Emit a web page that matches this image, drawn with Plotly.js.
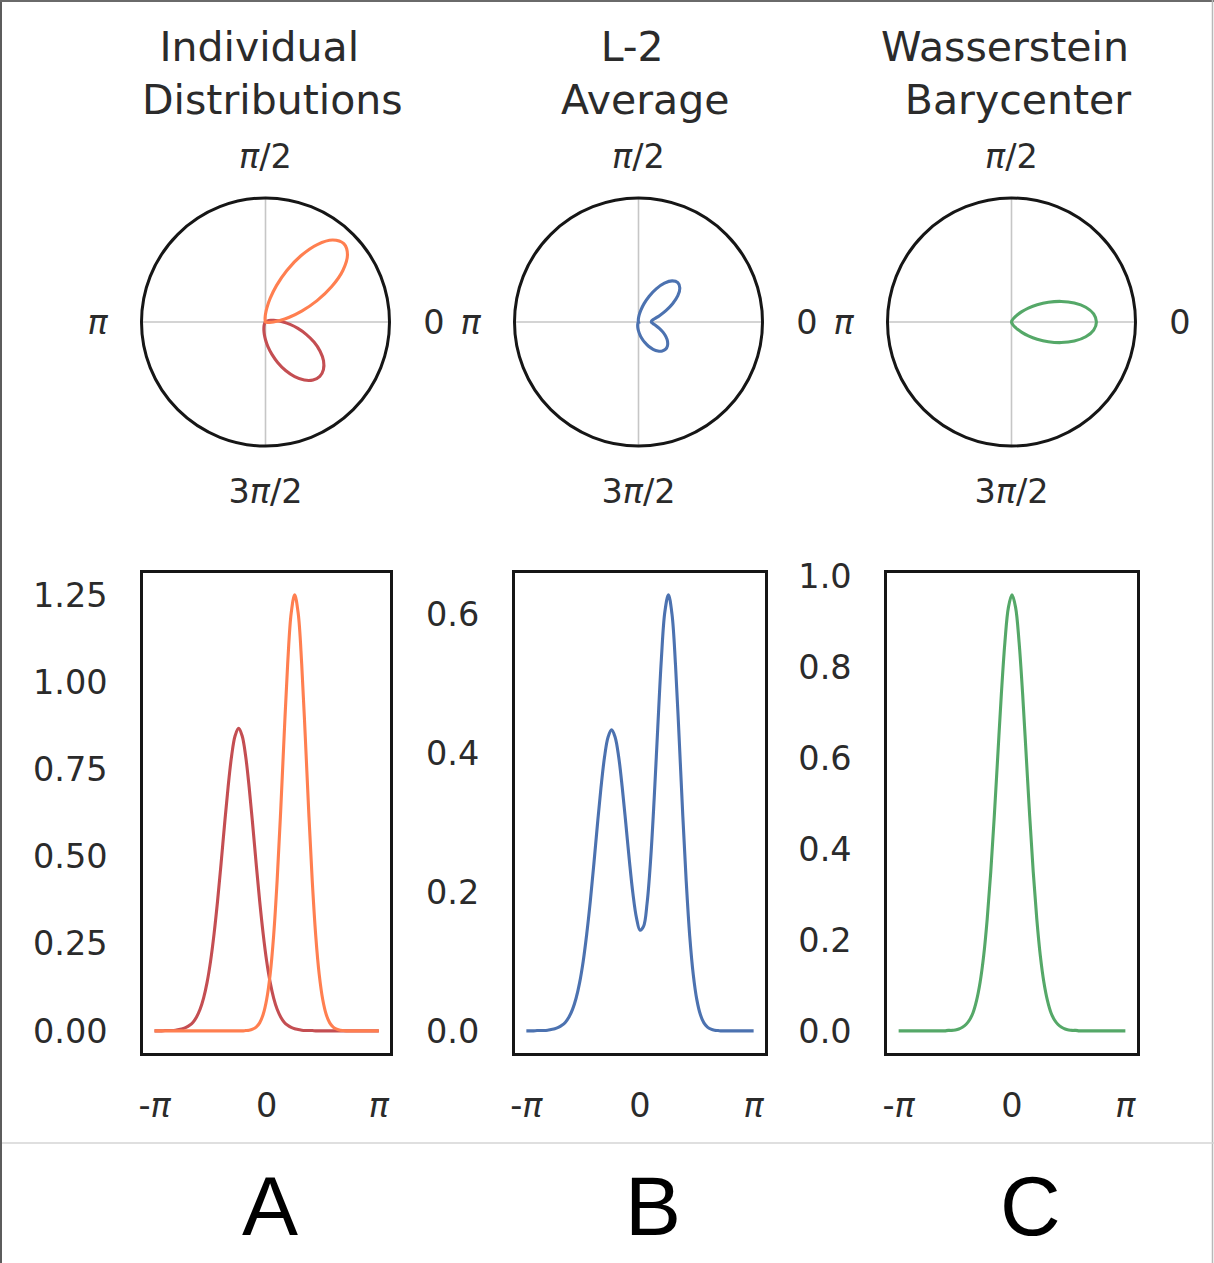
<!DOCTYPE html>
<html><head><meta charset="utf-8">
<script src="https://cdn.plot.ly/plotly-3.0.1.min.js"></script>
<style>html,body{margin:0;padding:0;background:#fff;} #chart{width:1214px;height:1263px;}</style>
</head><body><div id="chart"></div>
<script>
// angle grid (radians), -pi .. pi
const theta = [-3.1416,-3.0434,-2.9452,-2.8471,-2.7489,-2.6507,-2.5525,-2.4544,-2.3562,-2.2580,-2.1598,-2.0617,-1.9635,-1.8653,-1.7671,-1.6690,-1.5708,-1.4726,-1.3744,-1.2763,-1.1781,-1.0799,-0.9817,-0.8836,-0.7854,-0.6872,-0.5890,-0.4909,-0.3927,-0.2945,-0.1963,-0.0982,0,0.0982,0.1963,0.2945,0.3927,0.4909,0.5890,0.6872,0.7854,0.8836,0.9817,1.0799,1.1781,1.2763,1.3744,1.4726,1.5708,1.6690,1.7671,1.8653,1.9635,2.0617,2.1598,2.2580,2.3562,2.4544,2.5525,2.6507,2.7489,2.8471,2.9452,3.0434,3.1416];

const redDistribution = [0,0,0,0.001,0.001,0.001,0.002,0.004,0.006,0.010,0.016,0.025,0.040,0.062,0.094,0.139,0.200,0.279,0.373,0.480,0.593,0.699,0.788,0.846,0.867,0.846,0.788,0.699,0.593,0.480,0.373,0.279,0.200,0.139,0.094,0.062,0.040,0.025,0.016,0.010,0.006,0.004,0.002,0.001,0.001,0.001,0,0,0,0,0,0,0,0,0,0,0,0,0,0,0,0,0,0,0];

const orangeDistribution = [0,0,0,0,0,0,0,0,0,0,0,0,0,0,0,0,0,0,0,0,0,0,0,0,0,0,0.001,0.002,0.005,0.011,0.023,0.047,0.090,0.162,0.274,0.432,0.630,0.848,1.052,1.197,1.250,1.197,1.052,0.848,0.630,0.432,0.274,0.162,0.090,0.047,0.023,0.011,0.005,0.002,0.001,0,0,0,0,0,0,0,0,0,0];

const l2Average = [0,0,0,0.0005,0.0005,0.0005,0.001,0.002,0.003,0.005,0.008,0.0125,0.020,0.031,0.047,0.0695,0.100,0.1395,0.1865,0.240,0.2965,0.3495,0.394,0.423,0.4335,0.423,0.3945,0.3505,0.299,0.2455,0.198,0.163,0.145,0.1505,0.184,0.247,0.335,0.4365,0.534,0.6035,0.628,0.6005,0.527,0.4245,0.3155,0.2165,0.137,0.081,0.045,0.0235,0.0115,0.0055,0.0025,0.001,0.0005,0,0,0,0,0,0,0,0,0,0];

const wassersteinBarycenter = [0,0,0,0,0,0,0,0,0,0,0,0,0,0,0.001,0.001,0.002,0.004,0.008,0.014,0.024,0.040,0.067,0.107,0.165,0.246,0.349,0.472,0.607,0.741,0.855,0.932,0.959,0.932,0.855,0.741,0.607,0.472,0.349,0.246,0.165,0.107,0.067,0.040,0.024,0.014,0.008,0.004,0.002,0.001,0.001,0,0,0,0,0,0,0,0,0,0,0,0,0,0];

const columnTitles = ['Individual\u00a0<br>\u00a0Distributions', 'L-2\u00a0<br>\u00a0Average', 'Wasserstein\u00a0<br>\u00a0Barycenter'];
const panelLetters = ['A', 'B', 'C'];
const angularTickVals = [0, 90, 180, 270];
const angularTickText = ['\u00a00', '<i>π</i>/2', '<i>π</i>\u00a0', '3<i>π</i>/2'];
const xTickVals = [-Math.PI, 0, Math.PI];
const xTickText = ['-<i>π</i>', '0', '<i>π</i>'];
const yTicksA = [0, 0.25, 0.5, 0.75, 1.0, 1.25];
const yTicksB = [0, 0.2, 0.4, 0.6];
const yTicksC = [0, 0.2, 0.4, 0.6, 0.8, 1.0];

const colors = {red: '#c44e52', orange: '#ff7f50', blue: '#4c72b0', green: '#55a868'};
const W = 1214, H = 1263;
const textColor = '#2b2b2b';
const tickFont = {family: 'DejaVu Sans', size: 33.5, color: textColor};
const px = v => v / W;
const py = v => 1 - v / H;

const lineW = 3.1;
const frameColor = '#161616';
const frameW = 3;
function polarTrace(r, color, sub) {
  return {type: 'scatterpolar', mode: 'lines', r: r, theta: theta, thetaunit: 'radians',
    line: {color: color, width: lineW, shape: 'spline', smoothing: 1}, subplot: sub, hoverinfo: 'skip'};
}
function lineTrace(y, color, xa, ya) {
  return {type: 'scatter', mode: 'lines', x: theta, y: y, xaxis: xa, yaxis: ya,
    line: {color: color, width: lineW, shape: 'spline', smoothing: 1}, hoverinfo: 'skip'};
}

const data = [
  polarTrace(redDistribution, colors.red, 'polar'),
  polarTrace(orangeDistribution, colors.orange, 'polar'),
  polarTrace(l2Average, colors.blue, 'polar2'),
  polarTrace(wassersteinBarycenter, colors.green, 'polar3'),
  lineTrace(redDistribution, colors.red, 'x', 'y'),
  lineTrace(orangeDistribution, colors.orange, 'x', 'y'),
  lineTrace(l2Average, colors.blue, 'x2', 'y2'),
  lineTrace(wassersteinBarycenter, colors.green, 'x3', 'y3')
];

const polarCentersX = [265.5, 638.5, 1011.5];
const polarR = 124, polarCY = 322;
function polarLayout(cx) {
  return {
    domain: {x: [px(cx - polarR), px(cx + polarR)], y: [py(polarCY + polarR), py(polarCY - polarR)]},
    bgcolor: 'white',
    radialaxis: {range: [0, 1.4], showline: false, showgrid: false, showticklabels: false, ticks: ''},
    angularaxis: {tickmode: 'array', tickvals: angularTickVals, ticktext: angularTickText,
      showgrid: true, gridcolor: '#c6c6c6', gridwidth: 1.6, showline: true, linecolor: frameColor, linewidth: frameW,
      ticks: 'outside', ticklen: 15, tickcolor: 'rgba(0,0,0,0)', tickfont: tickFont, rotation: 0, direction: 'counterclockwise'}
  };
}

const frameX = [[143.3, 390], [515, 765], [887.3, 1136.7]];
const frameY = [573, 1052.7];
const xr = [-1.1 * Math.PI, 1.1 * Math.PI];
function xAxis(i, anchor) {
  return {domain: [px(frameX[i][0]), px(frameX[i][1])], anchor: anchor, range: xr,
    tickmode: 'array', tickvals: xTickVals, ticktext: xTickText, tickfont: tickFont,
    showgrid: false, zeroline: false, showline: true, mirror: true, linecolor: frameColor, linewidth: frameW,
    ticks: 'outside', ticklen: 21, tickcolor: 'rgba(0,0,0,0)', fixedrange: true};
}
function yAxis(anchor, range, vals, fmt) {
  return {domain: [py(frameY[1]), py(frameY[0])], anchor: anchor, range: range,
    tickmode: 'array', tickvals: vals, tickformat: fmt, tickfont: tickFont,
    showgrid: false, zeroline: false, showline: true, mirror: true, linecolor: frameColor, linewidth: frameW,
    ticks: 'outside', ticklen: 26, tickcolor: 'rgba(0,0,0,0)', fixedrange: true};
}

const annotations = [];
columnTitles.forEach((t, i) => annotations.push({text: t, xref: 'paper', yref: 'paper', x: px(polarCentersX[i]), y: py(73.5),
  xanchor: 'center', yanchor: 'middle', showarrow: false, align: 'center', font: {family: 'DejaVu Sans', size: 41, color: textColor}}));
const letterX = [269.5, 652.5, 1030];
panelLetters.forEach((t, i) => annotations.push({text: t, xref: 'paper', yref: 'paper', x: px(letterX[i]), y: py(1206),
  xanchor: 'center', yanchor: 'middle', showarrow: false, font: {family: 'Liberation Sans', size: 84, color: '#000'}}));

const shapes = [
  {type: 'line', xref: 'paper', yref: 'paper', x0: px(1), x1: px(1), y0: 0, y1: 1, line: {color: '#5c5c5c', width: 2}},
  {type: 'line', xref: 'paper', yref: 'paper', x0: 0, x1: 1, y0: py(1), y1: py(1), line: {color: '#6a6a6a', width: 2}},
  {type: 'line', xref: 'paper', yref: 'paper', x0: px(1212.5), x1: px(1212.5), y0: 0, y1: 1, line: {color: '#b8b8b8', width: 1.5}},
  {type: 'line', xref: 'paper', yref: 'paper', x0: px(2), x1: 1, y0: py(1143), y1: py(1143), line: {color: '#d4d4d4', width: 1.5}}
];

const layout = {
  width: W, height: H, margin: {l: 0, r: 0, t: 0, b: 0},
  paper_bgcolor: 'white', plot_bgcolor: 'white', showlegend: false,
  font: {family: 'DejaVu Sans', color: textColor},
  polar: polarLayout(polarCentersX[0]),
  polar2: polarLayout(polarCentersX[1]),
  polar3: polarLayout(polarCentersX[2]),
  xaxis: xAxis(0, 'y'), yaxis: yAxis('x', [-0.0625, 1.3125], yTicksA, '.2f'),
  xaxis2: xAxis(1, 'y2'), yaxis2: yAxis('x2', [-0.0314, 0.6594], yTicksB, '.1f'),
  xaxis3: xAxis(2, 'y3'), yaxis3: yAxis('x3', [-0.048, 1.007], yTicksC, '.1f'),
  annotations: annotations, shapes: shapes
};

Plotly.newPlot('chart', data, layout, {displayModeBar: false, staticPlot: true});
</script></body></html>
